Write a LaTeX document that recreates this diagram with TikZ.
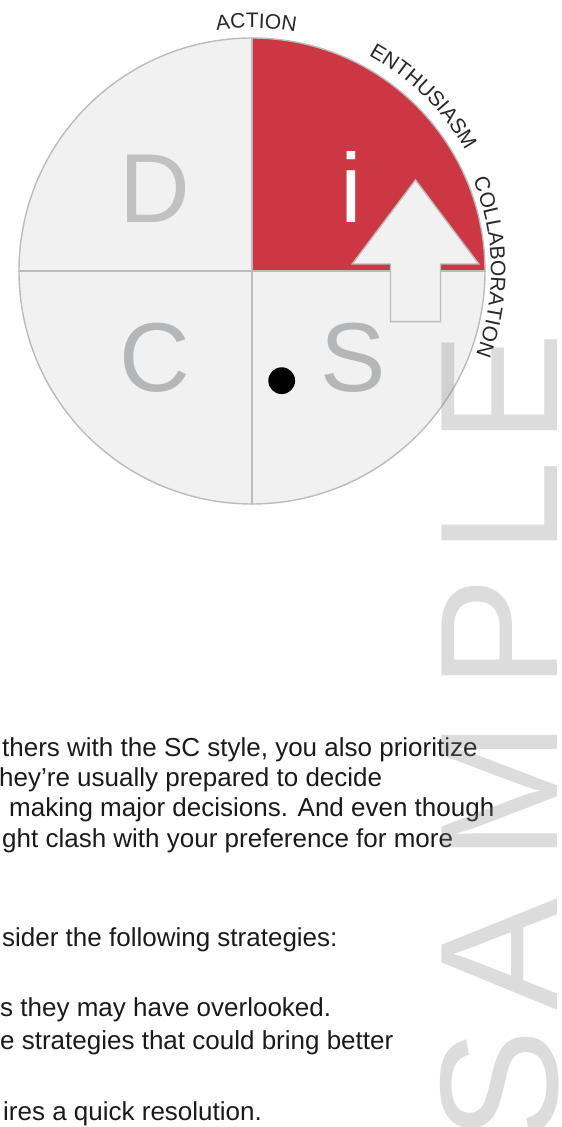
\documentclass[tikz,border=0pt]{standalone}
\usepackage{fontspec}
\setmainfont{Liberation Sans}
\usepackage{xcolor}
\usepackage{tikz}
\usetikzlibrary{calc,positioning,decorations.text}

\definecolor{discred}{RGB}{204,55,67}
\definecolor{quadfill}{RGB}{241,241,241}
\definecolor{ringgray}{RGB}{187,187,187}
\definecolor{dletter}{RGB}{192,193,192}
\definecolor{csletter}{RGB}{181,182,183}
\definecolor{labelink}{RGB}{40,40,40}
\definecolor{bodyink}{RGB}{26,26,26}

\newcommand{\arcfont}{\fontsize{21}{21}\selectfont}

\begin{document}
\begin{tikzpicture}[
  x=1pt,y=1pt,
  line cap=round,
  line join=round,
  ringline/.style={ringgray,line width=1.4pt},
  bigletter/.style={font=\fontsize{98}{98}\selectfont,inner sep=0pt,anchor=base},
  bodyline/.style={bodyink,font=\fontsize{26}{30}\selectfont,inner sep=0pt,
    anchor=base west},
  arclabel/.style={decoration={text along path,text align=center,
      text={|\arcfont\color{labelink}|#1}},decorate},
  wmark/.style={black!50,opacity=0.28,font=\fontsize{168}{168}\selectfont,
    inner sep=0pt,anchor=base,rotate=90}
]
\path[use as bounding box] (0,0) rectangle (562,1127);

\coordinate (O) at (252,856);

% DiSC circle
\fill[quadfill] (O) circle[radius=233];
\fill[discred] (O) -- ++(0,233) arc[start angle=90,end angle=0,radius=233] -- cycle;
\draw[ringline] (O) ++(0,233) -- ++(0,-466);
\draw[ringline] (O) ++(-233,0) -- ++(466,0);
\draw[ringline] (O) circle[radius=233];

\node[bigletter,text=dletter] (dL) at (155,904) {D};
\node[bigletter,text=white] (iL) at (351,904) {i};
\node[bigletter,text=csletter] (cL) at (155,735) {C};
\node[bigletter,text=csletter] (sL) at (353,735) {S};

% shift arrow
\coordinate (tip) at (415.5,947);
\draw[ringline,fill=quadfill,line join=miter] (tip) -- ++(63.3,-84) -- ++(-38.3,0)
  -- ++(0,-57.7) -- ++(-50,0) -- ++(0,57.7) -- ++(-38.3,0) -- cycle;

\node[circle,fill=black,inner sep=0pt,minimum size=26.8pt] (dot) at (281.7,746.3) {};

% labels round the circle
\path[arclabel=ACTION] (O) ++(134:243) arc[start angle=134,end angle=44,radius=243];
\path[arclabel=ENTHUSIASM] (O) ++(91:245) arc[start angle=91,end angle=0,radius=245];
\path[arclabel=COLLABORATION] (O) ++(46:239) arc[start angle=46,end angle=-44,radius=239];

% body text
\node[bodyline] (line1) at (2,370) {thers with the SC style, you also prioritize};
\node[bodyline] (line2) at (-1,340) {hey’re usually prepared to decide};
\node[bodyline] (line3) at (9,310) {making major decisions. And even though};
\node[bodyline] (line4) at (2,279) {ght clash with your preference for more};
\node[bodyline] (line5) at (2,180) {sider the following strategies:};
\node[bodyline] (line6) at (0,110) {s they may have overlooked.};
\node[bodyline] (line7) at (0,77) {e strategies that could bring better};
\node[bodyline] (line8) at (3,6) {ires a quick resolution.};

% watermark
\foreach \ch/\yy in {S/42,A/173,M/335.5,P/494,L/619.5,E/739}
  \node[wmark] (wm\ch) at (557,\yy) {\ch};
\end{tikzpicture}
\end{document}
